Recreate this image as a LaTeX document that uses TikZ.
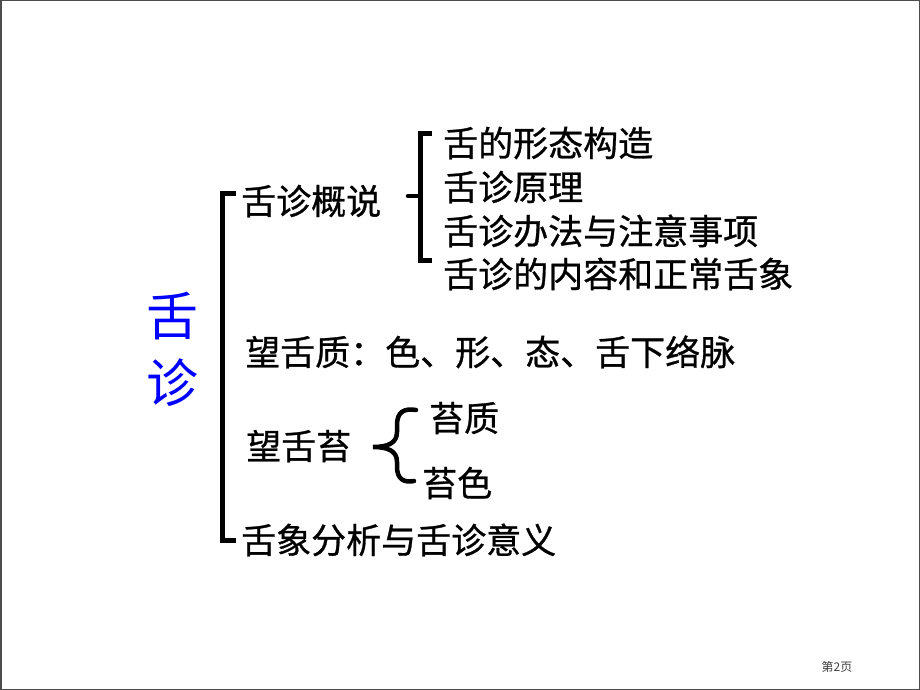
\documentclass[tikz,border=0pt]{standalone}
\usepackage{fontspec}
\setmainfont{Noto Sans CJK SC}
\newfontfamily\cjk{Noto Sans CJK SC}
\newfontfamily\cjkb[FakeBold=0.8]{Noto Sans CJK SC}
\begin{document}
\begin{tikzpicture}[x=1pt,y=-1pt,
  txt/.style={anchor=west,inner sep=0pt,text height=30.8pt,text depth=4.2pt,font=\cjkb\fontsize{35}{40}\selectfont,text=black},
  big/.style={inner sep=0pt,text height=45.8pt,text depth=6.2pt,font=\cjk\fontsize{52}{56}\selectfont,text=blue},
  brk/.style={line width=5pt,draw=black},
  brc/.style={line width=4.5pt,draw=black,line cap=round}]
\fill[white] (0,0) rectangle (920,690);
\draw[line width=1.5pt,draw=black!70] (0.75,0.75) rectangle (919.25,689.25);
\useasboundingbox (0,0) rectangle (920,690);
% title
\node[big] (t1) at (172,316) {舌};
\node[big] (t2) at (172,383) {诊};
% level 1
\node[txt] (a) at (241,201) {舌诊概说};
\node[txt] (b) at (245,352) {望舌质：色、形、态、舌下络脉};
\node[txt] (c) at (246,446) {望舌苔};
\node[txt] (d) at (241,540) {舌象分析与舌诊意义};
% level 2 under a
\node[txt] (a1) at (443,143) {舌的形态构造};
\node[txt] (a2) at (443,187) {舌诊原理};
\node[txt] (a3) at (443,231) {舌诊办法与注意事项};
\node[txt] (a4) at (443,274) {舌诊的内容和正常舌象};
% level 2 under c
\node[txt] (c1) at (429,418) {苔质};
\node[txt] (c2) at (422,483) {苔色};
% footer
\node[inner sep=0pt,font=\cjk\fontsize{12}{14}\selectfont,text=black!75] (pg) at (837,667) {第2页};
% main bracket
\coordinate (m1) at (236,193);
\coordinate (m2) at (236,540);
\draw[brk,line join=miter] (m1) -- (222,193) -- (222,540) -- (m2);
% bracket for a
\coordinate (s0) at (408,196);
\draw[brk,line join=miter] (432,133) -- (420.5,133) -- (420.5,260) -- (432,260);
\draw[brc] (s0) -- (420.5,196);
% brace for c
\coordinate (tip) at (373,447);
\draw[brc] (416,410) .. controls (404,408) and (397,412) .. (397,425)
  -- (397,432) .. controls (397,443) and (388,447) .. (tip)
  .. controls (388,447) and (397,451) .. (397,462)
  -- (397,467) .. controls (397,479) and (404,483) .. (414,481);
\end{tikzpicture}
\end{document}
